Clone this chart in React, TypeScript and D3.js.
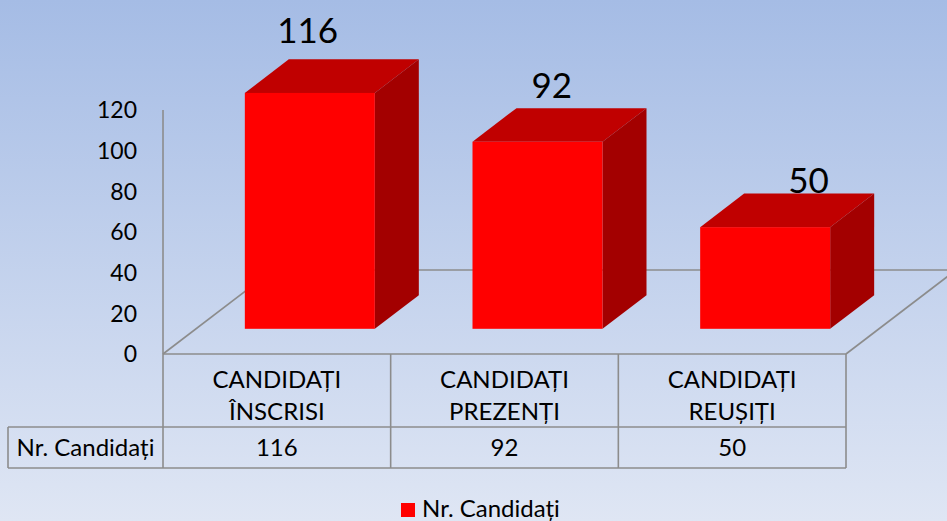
import * as d3 from "d3";

const categories = ["CANDIDAȚI ÎNSCRISI", "CANDIDAȚI PREZENȚI", "CANDIDAȚI REUȘIȚI"];
const categoryLines = [
  ["CANDIDAȚI", "ÎNSCRISI"],
  ["CANDIDAȚI", "PREZENȚI"],
  ["CANDIDAȚI", "REUȘIȚI"],
];
const values = [116, 92, 50];
const seriesName = "Nr. Candidați";
const yTicks = [0, 20, 40, 60, 80, 100, 120];

const W = 947;
const H = 521;
const FONT = "Lato, 'Open Sans', sans-serif";
const GRID = "#8c8c8c";

// oblique 3D: full floor depth vector, bars sit between 30% and 70% of it
const depth = { dx: 110, dy: -84 };
const barFront = 0.3;
const barBack = 0.7;
const barWidth = 130;

export default function App() {
  const x = d3.scaleBand<string>().domain(categories).range([163, 846]).padding(0);
  const y = d3.scaleLinear().domain([0, 120]).range([354, 110]);
  const bw = x.bandwidth();
  const floorY = y(0);

  const fx = barFront * depth.dx;
  const fy = barFront * depth.dy;
  const bx = barBack * depth.dx;
  const by = barBack * depth.dy;

  const pts = (p: number[][]) => p.map((d) => d.join(",")).join(" ");

  const tableTop = floorY;
  const rowSplit = 427;
  const tableBottom = 468;
  const tableLeft = 8;

  return (
    <svg
      width={W}
      height={H}
      style={{ position: "absolute", left: 0, top: 0, display: "block" }}
      fontFamily={FONT}
    >
      <defs>
        <linearGradient id="bg" x1="0" y1="0" x2="0" y2="1">
          <stop offset="0" stopColor="#a5bce5" />
          <stop offset="1" stopColor="#dfe6f4" />
        </linearGradient>
      </defs>
      <rect width={W} height={H} fill="url(#bg)" />

      {/* floor outline */}
      <g stroke={GRID} strokeWidth={1.6} fill="none">
        <line x1={x.range()[0]} y1={floorY} x2={x.range()[0] + depth.dx} y2={floorY + depth.dy} />
        <line x1={x.range()[1]} y1={floorY} x2={x.range()[1] + depth.dx} y2={floorY + depth.dy} />
        <line
          x1={x.range()[0] + depth.dx}
          y1={floorY + depth.dy}
          x2={x.range()[1] + depth.dx}
          y2={floorY + depth.dy}
        />
        <line x1={x.range()[0]} y1={y(120)} x2={x.range()[0]} y2={floorY} />
      </g>

      {/* y axis labels */}
      <g fontSize={23} textAnchor="end" fill="#000">
        {yTicks.map((t) => (
          <text key={t} x={137} y={y(t)} dy="0.36em">
            {t}
          </text>
        ))}
      </g>

      {/* bars */}
      {values.map((v, i) => {
        const left = x(categories[i])! + (bw - barWidth) / 2 + fx;
        const right = left + barWidth;
        const top = y(v) + fy;
        const bottom = floorY + fy;
        const ddx = bx - fx;
        const ddy = by - fy;
        return (
          <g key={categories[i]}>
            <polygon
              points={pts([
                [left, top],
                [right, top],
                [right + ddx, top + ddy],
                [left + ddx, top + ddy],
              ])}
              fill="#c00000"
            />
            <polygon
              points={pts([
                [right, top],
                [right + ddx, top + ddy],
                [right + ddx, bottom + ddy],
                [right, bottom],
              ])}
              fill="#a30000"
            />
            <rect x={left} y={top} width={barWidth} height={bottom - top} fill="#ff0000" />
          </g>
        );
      })}

      {/* value labels, placed in the chart's projected space above each bar */}
      <g fontSize={35} textAnchor="middle" fill="#000">
        {values.map((v, i) => {
          const cx = x(categories[i])! + bw / 2 + fx + 0.69 * (120 - v) - 5;
          const base = y(v) + fy - (34 + (v - 50) * 0.24);
          return (
            <text key={i} x={cx} y={base}>
              {v}
            </text>
          );
        })}
      </g>

      {/* data table */}
      <g stroke={GRID} strokeWidth={1.6}>
        <line x1={tableLeft} y1={rowSplit} x2={x.range()[1]} y2={rowSplit} />
        <line x1={tableLeft} y1={tableBottom} x2={x.range()[1]} y2={tableBottom} />
        <line x1={x.range()[0]} y1={floorY} x2={x.range()[1]} y2={floorY} />
        <line x1={tableLeft} y1={rowSplit} x2={tableLeft} y2={tableBottom} />
        {categories.map((c) => (
          <line key={c} x1={x(c)!} y1={tableTop} x2={x(c)!} y2={tableBottom} />
        ))}
        <line x1={x.range()[1]} y1={tableTop} x2={x.range()[1]} y2={tableBottom} />
      </g>
      <g fontSize={24} textAnchor="middle" fill="#000">
        {categories.map((c, i) => (
          <text key={c} x={x(c)! + bw / 2} y={388}>
            {categoryLines[i].map((line, j) => (
              <tspan key={j} x={x(c)! + bw / 2} dy={j === 0 ? 0 : 32}>
                {line}
              </tspan>
            ))}
          </text>
        ))}
        {values.map((v, i) => (
          <text key={i} x={x(categories[i])! + bw / 2} y={456}>
            {v}
          </text>
        ))}
        <text x={(tableLeft + x.range()[0]) / 2} y={456}>
          {seriesName}
        </text>
      </g>

      {/* legend */}
      <rect x={401} y={503} width={14} height={14} fill="#ff0000" />
      <text x={422} y={517} fontSize={24} fill="#000">
        {seriesName}
      </text>
    </svg>
  );
}
